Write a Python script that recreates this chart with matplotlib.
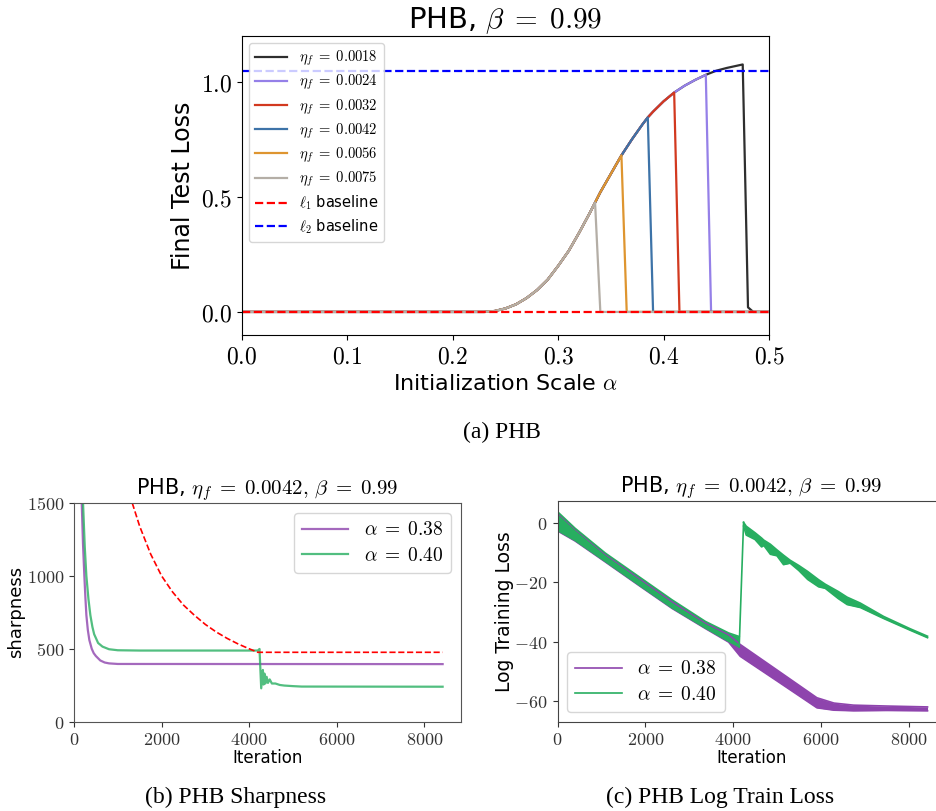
import matplotlib
matplotlib.use("Agg")
import matplotlib.pyplot as plt
from matplotlib.ticker import FuncFormatter

plt.rcParams['mathtext.fontset'] = 'cm'
plt.rcParams['font.family'] = ['DejaVu Sans']

# ---- (a) final test loss vs initialization scale ----
base_alpha = [0.0, 0.2, 0.23, 0.24, 0.25, 0.26, 0.27, 0.28, 0.29, 0.30, 0.31, 0.32,
              0.33, 0.335, 0.34, 0.35, 0.36, 0.37, 0.38, 0.385, 0.39, 0.40, 0.41,
              0.42, 0.43, 0.44, 0.45, 0.46, 0.47, 0.475]
base_loss = [0.0, 0.0, 0.0, 0.004, 0.015, 0.033, 0.06, 0.095, 0.14, 0.20, 0.265, 0.345,
             0.43, 0.475, 0.52, 0.60, 0.68, 0.75, 0.815, 0.845, 0.87, 0.915, 0.953,
             0.983, 1.008, 1.03, 1.048, 1.06, 1.07, 1.075]

eta_labels = ['0.0018', '0.0024', '0.0032', '0.0042', '0.0056', '0.0075']
eta_colors = ['#2e2e2e', '#9580e8', '#d2391f', '#3d73a8', '#de9530', '#b4aea6']
peak_alpha = [0.475, 0.44, 0.41, 0.385, 0.36, 0.335]
tail_alpha = [[0.48, 0.485, 0.5], [0.445, 0.5], [0.415, 0.5], [0.39, 0.5],
              [0.365, 0.5], [0.34, 0.5]]
tail_loss = [[0.02, 0.0, 0.0], [0.0, 0.0], [0.0, 0.0], [0.0, 0.0],
             [0.0, 0.0], [0.0, 0.0]]
l1_baseline = 0.0
l2_baseline = 1.047

# ---- (b) sharpness ----
sh_purple_t = [0, 100, 176, 205, 236, 260, 282, 315, 350, 405, 450, 500, 600, 700,
               800, 1000, 8420]
sh_purple = [4000, 2300, 1500, 1220, 1000, 850, 731, 630, 560, 500, 470, 450, 420,
             406, 400, 396, 395]
sh_green_t = [0, 120, 206, 245, 282, 330, 373, 420, 460, 550, 650, 800, 1000, 1500,
              4200, 4237, 4276, 4314, 4330, 4350, 4370, 4400, 4430, 4470, 4520,
              4600, 4700, 4800, 5000, 5200, 8420]
sh_green = [4000, 2400, 1500, 1200, 1000, 840, 731, 650, 600, 540, 515, 497, 490,
            488, 488, 499, 229, 355, 255, 330, 262, 308, 266, 290, 262,
            262, 252, 248, 244, 241, 240]
sh_edge_t = [1330, 1500, 1750, 2000, 2250, 2500, 2750, 3000, 3250, 3500, 3750,
             4000, 4200, 8420]
sh_edge = [1500, 1340, 1150, 1000, 890, 800, 730, 667, 615, 571, 533, 500, 476, 476]

# ---- (c) log training loss (oscillating bands: upper / lower edge) ----
lp_t = [0, 400, 1090, 1850, 2610, 3370, 3900, 4164, 5000, 5911, 6300, 6746, 7500, 8432]
lp_hi = [3.5, -2.0, -10.5, -18.5, -26.5, -33.7, -37.7, -41.0, -49.6, -59.0, -60.8,
         -61.5, -61.8, -62.1]
lp_lo = [-2.6, -6.0, -13.1, -21.0, -28.8, -35.6, -40.2, -45.0, -53.3, -62.4, -63.2,
         -63.4, -63.3, -63.4]
lg_pre_t = [0, 400, 1090, 1850, 2610, 3370, 3900, 4140]
lg_pre_hi = [3.9, -1.7, -10.1, -18.0, -25.9, -33.2, -37.1, -38.3]
lg_pre_lo = [-2.4, -5.8, -12.9, -20.8, -28.6, -35.4, -39.9, -41.8]
lg_post_t = [4240, 4300, 4500, 4650, 4700, 4850, 5000, 5150, 5300, 5500, 5700, 5950,
             6100, 6400, 6600, 6900, 7430, 8040, 8432]
lg_post_hi = [0.3, -1.0, -3.2, -5.0, -5.7, -7.1, -9.0, -10.8, -12.5, -14.3, -16.3,
              -19.1, -20.6, -23.1, -25.0, -27.0, -31.5, -35.7, -38.2]
lg_post_lo = [-1.0, -4.0, -5.5, -8.0, -7.5, -10.5, -11.0, -14.0, -13.5, -16.0, -19.0,
              -21.5, -22.0, -25.5, -27.5, -28.5, -32.2, -36.2, -38.7]

purple = '#8e44ad'
green = '#27ae60'


def math_fmt(fmt):
    return FuncFormatter(lambda v, p: '$' + (fmt % v) + '$')


fig = plt.figure(figsize=(9.37, 8.11), dpi=100)

# (a)
ax = fig.add_axes([0.258, 0.587, 0.5628, 0.369])
for i in range(len(eta_labels)):
    k = base_alpha.index(peak_alpha[i]) + 1
    xs = base_alpha[:k] + tail_alpha[i]
    ys = base_loss[:k] + tail_loss[i]
    ax.plot(xs, ys, color=eta_colors[i], lw=1.6,
            label=r'$\eta_f\;=\;%s$' % eta_labels[i])
ax.axhline(l1_baseline, color='#ff0000', ls='--', lw=1.6, label=r'$\ell_1$ baseline')
ax.axhline(l2_baseline, color='#0000ff', ls='--', lw=1.6, label=r'$\ell_2$ baseline')
ax.set_xlim(0, 0.5)
ax.set_ylim(-0.1, 1.2)
ax.set_xticks([0.0, 0.1, 0.2, 0.3, 0.4, 0.5])
ax.set_yticks([0.0, 0.5, 1.0])
ax.xaxis.set_major_formatter(math_fmt('%.1f'))
ax.yaxis.set_major_formatter(math_fmt('%.1f'))
ax.tick_params(labelsize=17)
ax.set_title(r'PHB, $\beta\;=\;0.99$', fontsize=21, pad=5)
ax.set_xlabel(r'Initialization Scale $\alpha$', fontsize=16)
ax.set_ylabel('Final Test Loss', fontsize=17)
ax.legend(loc='upper left', fontsize=10.5, handlelength=2.2, labelspacing=0.33)
fig.text(0.536, 0.467, '(a) PHB', ha='center', va='center',
         family='Liberation Serif', fontsize=17)

# (b)
ax = fig.add_axes([0.079, 0.1101, 0.413, 0.2697])
ax.plot(sh_purple_t, sh_purple, color=purple, lw=1.6, alpha=0.8,
        label=r'$\alpha\;=\;0.38$')
ax.plot(sh_green_t, sh_green, color=green, lw=1.6, alpha=0.8,
        label=r'$\alpha\;=\;0.40$')
ax.plot(sh_edge_t, sh_edge, color='#ff0000', ls='--', lw=1.2)
ax.set_xlim(0, 8840)
ax.set_ylim(0, 1500)
ax.set_xticks([0, 2000, 4000, 6000, 8000])
ax.set_yticks([0, 500, 1000, 1500])
ax.xaxis.set_major_formatter(math_fmt('%d'))
ax.yaxis.set_major_formatter(math_fmt('%d'))
ax.tick_params(labelsize=13, colors='#333333')
for s in ax.spines.values():
    s.set_color('#555555')
ax.set_title(r'PHB, $\eta_f\;=\;0.0042,\,\beta\;=\;0.99$', fontsize=15, pad=4)
ax.set_xlabel('Iteration', fontsize=12, labelpad=0)
ax.set_ylabel('sharpness', fontsize=13, labelpad=1)
ax.legend(loc='upper right', fontsize=14, handlelength=2.4, labelspacing=0.35)
fig.text(0.251, 0.017, '(b) PHB Sharpness', ha='center', va='center',
         family='Liberation Serif', fontsize=17)

# (c)
ax = fig.add_axes([0.595, 0.1101, 0.414, 0.2721])
ax.fill_between(lp_t, lp_lo, lp_hi, color=purple, lw=0)
ax.plot(lp_t, lp_lo, color=purple, lw=1.2)
ax.plot(lp_t, lp_hi, color=purple, lw=1.2, label=r'$\alpha\;=\;0.38$')
ax.fill_between(lg_pre_t, lg_pre_lo, lg_pre_hi, color=green, lw=0)
ax.plot(lg_pre_t, lg_pre_hi, color=green, lw=1.2, label=r'$\alpha\;=\;0.40$')
ax.plot(lg_pre_t, lg_pre_lo, color=green, lw=1.2)
ax.plot([lg_pre_t[-1], lg_post_t[0]], [lg_pre_lo[-1], lg_post_hi[0]], color=green, lw=1.2)
ax.fill_between(lg_post_t, lg_post_lo, lg_post_hi, color=green, lw=0)
ax.plot(lg_post_t, lg_post_hi, color=green, lw=1.2)
ax.plot(lg_post_t, lg_post_lo, color=green, lw=1.2)
ax.set_xlim(0, 8840)
ax.set_ylim(-67.1, 7.5)
ax.set_xticks([0, 2000, 4000, 6000, 8000])
ax.set_yticks([-60, -40, -20, 0])
ax.xaxis.set_major_formatter(math_fmt('%d'))
ax.yaxis.set_major_formatter(math_fmt('%d'))
ax.tick_params(labelsize=13, colors='#333333')
for s in ax.spines.values():
    s.set_color('#444444')
ax.set_title(r'PHB, $\eta_f\;=\;0.0042,\,\beta\;=\;0.99$', fontsize=15, pad=4)
ax.set_xlabel('Iteration', fontsize=12, labelpad=0)
ax.set_ylabel('Log Training Loss', fontsize=13.5, labelpad=0)
ax.legend(loc='lower left', fontsize=14, handlelength=2.4, labelspacing=0.35)
fig.text(0.768, 0.017, '(c) PHB Log Train Loss', ha='center', va='center',
         family='Liberation Serif', fontsize=17)

fig.savefig('out.png', dpi=100)
